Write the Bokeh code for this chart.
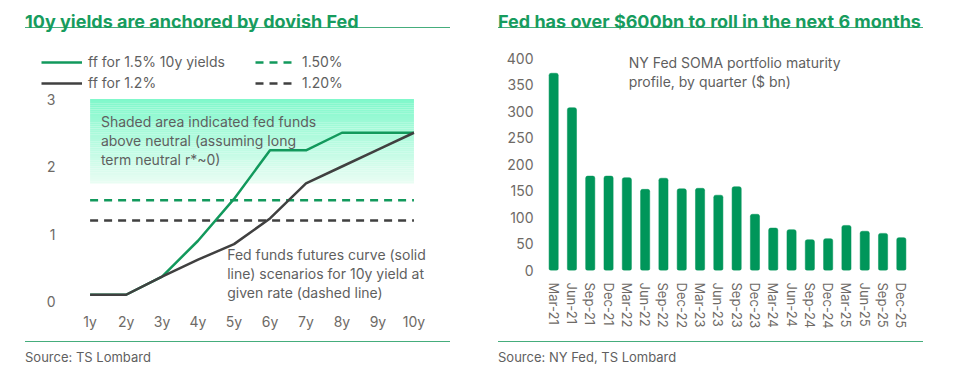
from bokeh.plotting import figure
from bokeh.models import Range1d, FactorRange, FixedTicker, Label, Legend, LegendItem, Div, Spacer
from bokeh.layouts import row, column
from bokeh.embed import file_html
from bokeh.resources import INLINE

# ---------------- data ----------------
tenor_years = [1, 2, 3, 4, 5, 6, 7, 8, 9, 10]
tenor_labels = ["1y", "2y", "3y", "4y", "5y", "6y", "7y", "8y", "9y", "10y"]
ff_for_15 = [0.1, 0.1, 0.37, 0.9, 1.52, 2.24, 2.24, 2.5, 2.5, 2.5]
ff_for_12 = [0.1, 0.1, 0.37, 0.62, 0.85, 1.23, 1.75, 2.0, 2.25, 2.5]
yield_15 = 1.5
yield_12 = 1.2
shade_bottom = 1.75
shade_top = 3.0
left_yticks = [0, 1, 2, 3]

quarters = ["Mar-21", "Jun-21", "Sep-21", "Dec-21", "Mar-22", "Jun-22", "Sep-22", "Dec-22",
            "Mar-23", "Jun-23", "Sep-23", "Dec-23", "Mar-24", "Jun-24", "Sep-24", "Dec-24",
            "Mar-25", "Jun-25", "Sep-25", "Dec-25"]
soma_maturing = [372, 307, 178, 178, 175, 153, 174, 154, 155, 142, 158, 106, 80, 77, 58, 60,
                 85, 74, 70, 62]
right_yticks = [0, 50, 100, 150, 200, 250, 300, 350, 400]

note_shaded = ["Shaded area indicated fed funds", "above neutral (assuming long",
               "term neutral r*~0)"]
note_curve = ["Fed funds futures curve (solid", "line) scenarios for 10y yield at",
              "given rate (dashed line)"]
note_soma = ["NY Fed SOMA portfolio maturity", "profile, by quarter ($ bn)"]

# ---------------- style ----------------
FONT = "Inter"
TITLE_GREEN = "#179c5e"
RULE_GREEN = "#45ad7c"
LINE_GREEN = "#12995c"
LINE_DARK = "#404040"
BAR_GREEN = "#00965a"
TEXT_GRAY = "#5f5f5f"
TICK_GRAY = "#6e6a66"
PANEL_W = 425


def title_div(txt):
    return Div(text=(f'<div style="font-family:{FONT};font-weight:bold;font-size:18px;'
                     f'color:{TITLE_GREEN};line-height:20px;height:20px;padding-top:4px;'
                     f'padding-bottom:5px;border-bottom:1.5px solid {RULE_GREEN};'
                     f'white-space:nowrap;width:{PANEL_W}px;">{txt}</div>'),
               width=PANEL_W, height=30, margin=0)


def source_div(txt):
    return Div(text=(f'<div style="font-family:{FONT};font-size:13px;color:{TEXT_GRAY};'
                     f'line-height:16px;padding-top:7px;border-top:1.5px solid {RULE_GREEN};'
                     f'white-space:nowrap;width:{PANEL_W}px;">{txt}</div>'),
               width=PANEL_W, height=23, margin=0)


def style_axes(p):
    for ax in (p.xaxis[0], p.yaxis[0]):
        ax.axis_line_color = None
        ax.major_tick_line_color = None
        ax.minor_tick_line_color = None
        ax.major_tick_out = 0
        ax.major_tick_in = 0
        ax.minor_tick_out = 0
        ax.major_label_text_font = FONT
        ax.major_label_text_font_size = "14px"
        ax.major_label_text_color = TICK_GRAY
    p.grid.visible = False
    p.outline_line_color = None
    p.background_fill_color = None
    p.border_fill_color = None


def add_note(p, lines, x, ys):
    for txt, yy in zip(lines, ys):
        p.add_layout(Label(x=x, y=yy, text=txt, text_font=FONT, text_font_size="14px",
                           text_color=TEXT_GRAY, text_baseline="middle"))


# ---------------- left chart: legend strip ----------------
pl = figure(width=PANEL_W, height=53, x_range=Range1d(100, 101), y_range=Range1d(100, 101),
            x_axis_location=None, y_axis_location=None, frame_align=False,
            min_border=0, output_backend="svg", toolbar_location=None)
pl.grid.visible = False
pl.outline_line_color = None
pl.background_fill_color = None
pl.border_fill_color = None
lg_g = pl.line(tenor_years, ff_for_15, line_color=LINE_GREEN, line_width=2.5)
lg_k = pl.line(tenor_years, ff_for_12, line_color=LINE_DARK, line_width=2.5)
lg_gd = pl.line([tenor_years[0], tenor_years[-1]], [yield_15, yield_15], line_color=LINE_GREEN,
                line_width=2.5, line_dash="8 6")
lg_kd = pl.line([tenor_years[0], tenor_years[-1]], [yield_12, yield_12], line_color=LINE_DARK,
                line_width=2.5, line_dash="8 6")
legend = Legend(items=[LegendItem(label="ff for 1.5% 10y yields", renderers=[lg_g]),
                       LegendItem(label="ff for 1.2%", renderers=[lg_k]),
                       LegendItem(label="1.50%", renderers=[lg_gd]),
                       LegendItem(label="1.20%", renderers=[lg_kd])],
                ncols=2, location=(16, 0), padding=0, margin=0, spacing=4,
                glyph_width=41, glyph_height=16, label_height=16, label_width=163,
                label_standoff=6, label_text_font=FONT, label_text_font_size="14px",
                label_text_color=TEXT_GRAY, border_line_color=None,
                background_fill_alpha=0)
pl.add_layout(legend, "center")

# ---------------- left chart ----------------
px_per_unit = (301 - 98.5) / 3.0
y_end = 3.0 + 7.5 / px_per_unit
p1 = figure(width=PANEL_W, height=250, x_range=Range1d(0.9, 10.46),
            y_range=Range1d(y_end - 220 / px_per_unit, y_end), frame_align=False,
            min_border_left=61, min_border_right=20, min_border_top=0, min_border_bottom=30,
            output_backend="svg", toolbar_location=None)
style_axes(p1)
p1.yaxis.ticker = FixedTicker(ticks=left_yticks)
p1.yaxis.major_label_standoff = 31
p1.xaxis.ticker = FixedTicker(ticks=tenor_years)
p1.xaxis.major_label_overrides = {t: l for t, l in zip(tenor_years, tenor_labels)}
p1.xaxis.major_label_standoff = 1


def mix(c1, c2, t):
    a = [int(c1[i:i + 2], 16) for i in (1, 3, 5)]
    b = [int(c2[i:i + 2], 16) for i in (1, 3, 5)]
    return "#%02x%02x%02x" % tuple(round(a[k] + (b[k] - a[k]) * t) for k in range(3))


n_bands = 40
step = (shade_top - shade_bottom) / n_bands
bottoms = [shade_bottom + i * step for i in range(n_bands)]
tops = [b + step * 1.02 for b in bottoms]
cols = [mix("#eafdf4", "#7ff8ca", (i + 0.5) / n_bands) for i in range(n_bands)]
p1.quad(left=tenor_years[0], right=tenor_years[-1], bottom=bottoms, top=tops,
        fill_color=cols, line_color=None)

p1.line([tenor_years[0], tenor_years[-1]], [yield_15, yield_15], line_color=LINE_GREEN,
        line_width=2.5, line_dash="8 6")
p1.line([tenor_years[0], tenor_years[-1]], [yield_12, yield_12], line_color=LINE_DARK,
        line_width=2.5, line_dash="8 6")
p1.line(tenor_years, ff_for_15, line_color=LINE_GREEN, line_width=2.5)
p1.line(tenor_years, ff_for_12, line_color=LINE_DARK, line_width=2.5)

add_note(p1, note_shaded, 1.3, [(301 - c) / px_per_unit for c in (121, 140, 159)])
add_note(p1, note_curve, 4.81, [(301 - c) / px_per_unit for c in (254, 273, 292)])

# ---------------- right chart ----------------
p2 = figure(width=PANEL_W, height=303, x_range=FactorRange(*quarters), y_range=Range1d(0, 430),
            min_border_left=46, min_border_right=13, min_border_top=4, min_border_bottom=71,
            output_backend="svg", toolbar_location=None)
style_axes(p2)
p2.yaxis.ticker = FixedTicker(ticks=right_yticks)
p2.yaxis.major_label_standoff = 11
p2.xaxis.major_label_orientation = "vertical"
p2.xaxis.major_label_standoff = 12
p2.xaxis.major_label_text_font_size = "13px"
p2.vbar(x=quarters, top=soma_maturing, width=0.5, fill_color=BAR_GREEN, line_color=BAR_GREEN,
        line_alpha=0.5, border_radius=2)
add_note(p2, note_soma, 4.6, [(270 - c) / 0.53 for c in (62, 81)])

left = column(title_div("10y yields are anchored by dovish Fed"), pl, p1,
              source_div("Source: TS Lombard"), spacing=0, margin=0)
right = column(title_div("Fed has over $600bn to roll in the next 6 months"), p2,
               source_div("Source: NY Fed, TS Lombard"), spacing=0, margin=0)
body = row(Spacer(width=25, height=10, margin=0), left, Spacer(width=48, height=10, margin=0),
           right, spacing=0, margin=0)
layout = column(Spacer(width=10, height=8, margin=0), body, spacing=0, margin=0)

open("out.html", "w").write(file_html(layout, INLINE))
